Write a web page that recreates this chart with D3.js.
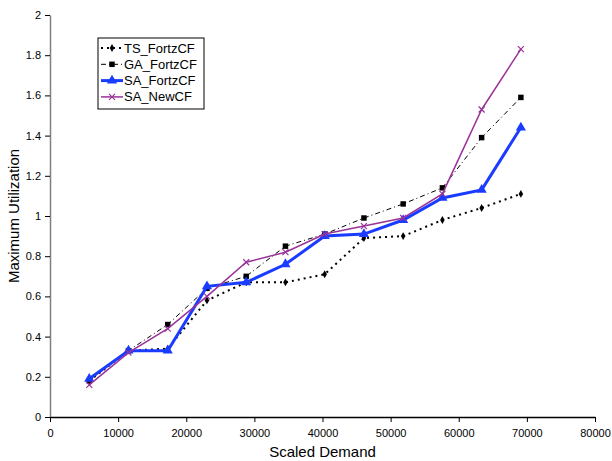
<!DOCTYPE html>
<html>
<head>
<meta charset="utf-8">
<script src="https://cdn.jsdelivr.net/npm/d3@7"></script>
<style>
  body { margin: 0; background: #fff; }
  svg { display: block; font-family: "Liberation Sans", Arial, sans-serif; }
</style>
</head>
<body>
<div id="chart"></div>
<script>
// scaled demand values (x) shared by every series
const demand = [5760, 11520, 17280, 23040, 28800, 34560, 40320, 46080, 51840, 57600, 63360, 69120];

// maximum utilization for each method
const tsFortz = [0.18, 0.33, 0.34, 0.58, 0.67, 0.67, 0.71, 0.89, 0.90, 0.98, 1.04, 1.11];
const gaFortz = [0.18, 0.33, 0.46, 0.64, 0.70, 0.85, 0.91, 0.99, 1.06, 1.14, 1.39, 1.59];
const saFortz = [0.19, 0.33, 0.33, 0.65, 0.67, 0.76, 0.90, 0.91, 0.98, 1.09, 1.13, 1.44];
const saNew   = [0.16, 0.32, 0.44, 0.60, 0.77, 0.82, 0.91, 0.95, 0.99, 1.11, 1.53, 1.83];

const seriesNames = ["TS_FortzCF", "GA_FortzCF", "SA_FortzCF", "SA_NewCF"];
const xTicks = [0, 10000, 20000, 30000, 40000, 50000, 60000, 70000, 80000];
const yTicks = [0, 0.2, 0.4, 0.6, 0.8, 1, 1.2, 1.4, 1.6, 1.8, 2];

const width = 612, height = 461;
const margin = { left: 50, right: 17, top: 15, bottom: 44 };

const svg = d3.select("#chart").append("svg")
    .attr("width", width)
    .attr("height", height);

const x = d3.scaleLinear().domain([0, 80000]).range([margin.left, width - margin.right]);
const y = d3.scaleLinear().domain([0, 2]).range([height - margin.bottom, margin.top]);

// line styles per series
const styles = [
    { values: tsFortz, color: "#000", width: 2, dash: "2,4", marker: "diamond" },
    { values: gaFortz, color: "#000", width: 1, dash: "5,3,1,3", marker: "square" },
    { values: saFortz, color: "#1a3cff", width: 3, dash: null, marker: "triangle" },
    { values: saNew, color: "#993399", width: 1.5, dash: null, marker: "cross" }
];

// axes
const yAxis = svg.append("g")
    .attr("transform", `translate(${margin.left},0)`)
    .call(d3.axisLeft(y).tickValues(yTicks).tickSize(5).tickSizeOuter(0)
        .tickFormat(d => d3.format("")(+d.toFixed(1))));
yAxis.select(".domain").attr("stroke", "#808080").attr("stroke-width", 1.5);
yAxis.selectAll(".tick line").attr("stroke", "#000");
yAxis.selectAll("text").attr("font-size", 11).attr("fill", "#000").attr("dx", -1);

const xAxis = svg.append("g")
    .attr("transform", `translate(0,${y(0)})`)
    .call(d3.axisBottom(x).tickValues(xTicks).tickSize(5).tickSizeOuter(0).tickFormat(d3.format("d")));
xAxis.select(".domain").attr("stroke", "#000").attr("stroke-width", 1.5);
xAxis.selectAll(".tick line").attr("stroke", "#000");
xAxis.selectAll("text").attr("font-size", 11).attr("fill", "#000").attr("dy", "1.1em");

// axis titles
svg.append("text")
    .attr("x", (x(0) + x(80000)) / 2)
    .attr("y", 457)
    .attr("text-anchor", "middle")
    .attr("font-size", 15)
    .text("Scaled Demand");

svg.append("text")
    .attr("transform", `translate(19,${(y(0) + y(2)) / 2}) rotate(-90)`)
    .attr("text-anchor", "middle")
    .attr("font-size", 15)
    .text("Maximum Utilization");

function drawMarker(g, type, color) {
    if (type === "diamond") {
        g.append("path").attr("d", d3.symbol(d3.symbolDiamond, 18)()).attr("fill", color);
    } else if (type === "square") {
        g.append("path").attr("d", d3.symbol(d3.symbolSquare, 30)()).attr("fill", color);
    } else if (type === "triangle") {
        g.append("path").attr("d", d3.symbol(d3.symbolTriangle, 45)()).attr("fill", color);
    } else {
        g.append("path").attr("d", "M-3,-3L3,3M-3,3L3,-3").attr("stroke", color).attr("stroke-width", 1.2).attr("fill", "none");
    }
}

const line = d3.line().x(d => x(d[0])).y(d => y(d[1]));

styles.forEach(s => {
    const pts = demand.map((d, i) => [d, s.values[i]]);
    svg.append("path")
        .datum(pts)
        .attr("d", line)
        .attr("fill", "none")
        .attr("stroke", s.color)
        .attr("stroke-width", s.width)
        .attr("stroke-dasharray", s.dash);
    pts.forEach(p => {
        const g = svg.append("g").attr("transform", `translate(${x(p[0])},${y(p[1])})`);
        drawMarker(g, s.marker, s.color);
    });
});

// legend
const legend = svg.append("g");
legend.append("rect")
    .attr("x", 98).attr("y", 38).attr("width", 106).attr("height", 71)
    .attr("fill", "#fff").attr("stroke", "#000").attr("stroke-width", 1);

styles.forEach((s, i) => {
    const ly = 48 + i * 16.3;
    legend.append("line")
        .attr("x1", 101).attr("x2", 123).attr("y1", ly).attr("y2", ly)
        .attr("stroke", s.color)
        .attr("stroke-width", s.width)
        .attr("stroke-dasharray", s.dash);
    drawMarker(legend.append("g").attr("transform", `translate(112,${ly})`), s.marker, s.color);
    legend.append("text")
        .attr("x", 124).attr("y", ly + 4.5)
        .attr("font-size", 13)
        .text(seriesNames[i]);
});
</script>
</body>
</html>
